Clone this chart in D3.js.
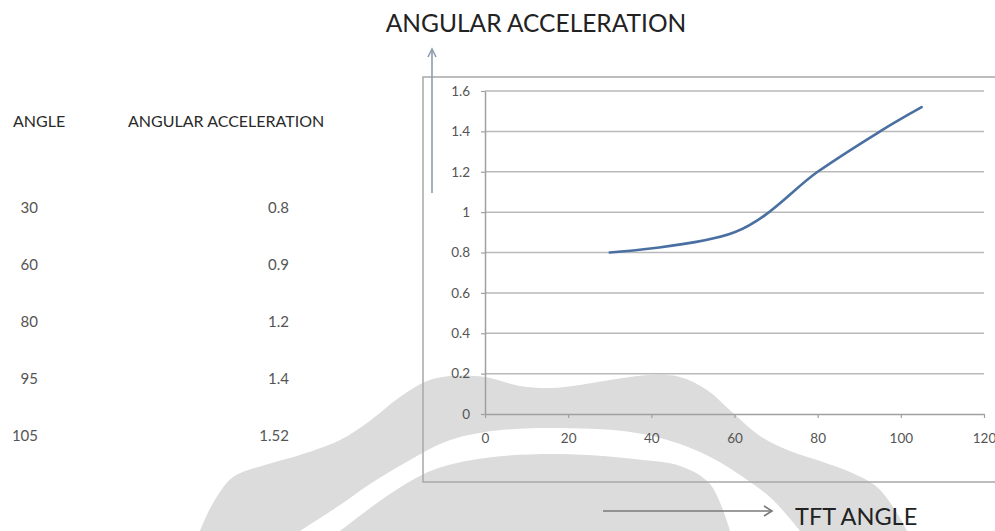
<!DOCTYPE html>
<html>
<head>
<meta charset="utf-8">
<script src="https://cdn.jsdelivr.net/npm/d3@7"></script>
<style>
  body { margin: 0; background: #fff; }
  svg { display: block; }
</style>
</head>
<body>
<svg id="chart" width="995" height="531"></svg>
<script>
// Measured pairs: TFT angle (degrees) vs angular acceleration
const angles = [30, 60, 80, 95, 105];
const accel = [0.8, 0.9, 1.2, 1.4, 1.52];
const angleLabels = ["30", "60", "80", "95", "105"];
const accelLabels = ["0.8", "0.9", "1.2", "1.4", "1.52"];
const tableHeaders = ["ANGLE", "ANGULAR ACCELERATION"];
const xTicks = [0, 20, 40, 60, 80, 100, 120];
const yTicks = [0, 0.2, 0.4, 0.6, 0.8, 1, 1.2, 1.4, 1.6];
const chartTitle = "ANGULAR ACCELERATION";
const xTitle = "TFT ANGLE";

const FONT = "Lato, 'Open Sans', sans-serif";
const svg = d3.select("#chart");

svg.append("rect").attr("width", 995).attr("height", 531).attr("fill", "#fff");

// Faint crest in the background
const crest = svg.append("g");
const smooth = d3.line().curve(d3.curveCatmullRom.alpha(0.5));
const crestOuter = [[200,531],[212,505],[233,477],[265,465],[300,455],[340,440],[367,423],[400,397],[427,381],[450,376],[485,377],[520,386],[550,388],[580,385],[610,380],[650,375],[680,377],[707,390],[733,413],[760,436],[790,451],[823,462],[850,472],[877,487],[897,513],[907,531]];
crest.append("path").attr("d", smooth(crestOuter) + "Z").attr("fill", "#dcdcdc");
const bandTop = [[300,531],[340,505],[370,484],[410,460],[445,442],[485,432],[560,428],[643,434],[700,452],[740,475],[773,500],[800,531]];
const bandBottom = [[730,531],[710,484],[680,466],[643,460],[560,454],[485,458],[433,470],[390,494],[340,531]];
crest.append("path")
  .attr("d", smooth(bandTop) + "L" + smooth(bandBottom).slice(1) + "Z")
  .attr("fill", "#fff");

// Data table on the left
const rowY = d3.scalePoint().domain(d3.range(angles.length)).range([208, 436]);
svg.append("g").selectAll("text").data(tableHeaders).join("text")
  .attr("x", (d, i) => i === 0 ? 13 : 128).attr("y", 127)
  .attr("font-family", FONT).attr("font-size", 16).attr("fill", "#2a2a2a")
  .text(d => d);
svg.append("g").selectAll("text").data(angleLabels).join("text")
  .attr("x", 38).attr("y", (d, i) => rowY(i)).attr("dy", "0.35em")
  .attr("text-anchor", "end")
  .attr("font-family", FONT).attr("font-size", 15).attr("fill", "#555")
  .text(d => d);
svg.append("g").selectAll("text").data(accelLabels).join("text")
  .attr("x", 289).attr("y", (d, i) => rowY(i)).attr("dy", "0.35em")
  .attr("text-anchor", "end")
  .attr("font-family", FONT).attr("font-size", 15).attr("fill", "#555")
  .text(d => d);

// Chart frame
svg.append("rect").attr("x", 423).attr("y", 77).attr("width", 620).attr("height", 405)
  .attr("fill", "none").attr("stroke", "#a8a8a8").attr("stroke-width", 1.5);

const x = d3.scaleLinear().domain([0, 120]).range([485, 984]);
const y = d3.scaleLinear().domain([0, 1.6]).range([414, 91]);

// Horizontal gridlines
svg.append("g").selectAll("line").data(yTicks.filter(v => v > 0)).join("line")
  .attr("x1", x(0)).attr("x2", x(120))
  .attr("y1", d => y(d)).attr("y2", d => y(d))
  .attr("stroke", "#b9b9b9").attr("stroke-width", 1.5);

const fmt = d => String(+d.toFixed(1));

const yAxis = svg.append("g").attr("transform", `translate(${x(0)},0)`)
  .call(d3.axisLeft(y).tickValues(yTicks).tickFormat(fmt).tickSizeInner(4).tickSizeOuter(0).tickPadding(11));
const xAxis = svg.append("g").attr("transform", `translate(0,${y(0)})`)
  .call(d3.axisBottom(x).tickValues(xTicks).tickFormat(fmt).tickSizeInner(4).tickSizeOuter(0).tickPadding(15));
[yAxis, xAxis].forEach(ax => {
  ax.select(".domain").attr("stroke", "#a0a0a0").attr("stroke-width", 1.5);
  ax.selectAll(".tick line").attr("stroke", "#a0a0a0").attr("stroke-width", 1.2);
  ax.selectAll("text").attr("font-family", FONT).attr("font-size", 13.5).attr("fill", "#555");
});

// Smoothed data line
const pts = angles.map((a, i) => [a, accel[i]]);
svg.append("path")
  .attr("d", d3.line().x(d => x(d[0])).y(d => y(d[1])).curve(d3.curveCatmullRom.alpha(0))(pts))
  .attr("fill", "none").attr("stroke", "#4a70a2").attr("stroke-width", 2.6)
  .attr("stroke-linecap", "round");

// Titles and direction arrows
svg.append("text").attr("x", 536).attr("y", 32).attr("text-anchor", "middle")
  .attr("font-family", FONT).attr("font-size", 24.5).attr("fill", "#222")
  .text(chartTitle);
svg.append("text").attr("x", 795).attr("y", 525)
  .attr("font-family", FONT).attr("font-size", 23.5).attr("fill", "#222")
  .text(xTitle);

const vArrow = svg.append("g").attr("stroke", "#8e9cb0").attr("stroke-width", 1.6).attr("fill", "none");
vArrow.append("line").attr("x1", 432).attr("x2", 432).attr("y1", 193).attr("y2", 49);
vArrow.append("path").attr("d", d3.line()([[428, 57], [432, 49], [436, 57]]));

const hArrow = svg.append("g").attr("stroke", "#7a7a7a").attr("stroke-width", 1.6).attr("fill", "none");
hArrow.append("line").attr("x1", 603).attr("x2", 772).attr("y1", 511).attr("y2", 511);
hArrow.append("path").attr("d", d3.line()([[764, 506], [772, 511], [764, 516]]));
</script>
</body>
</html>
